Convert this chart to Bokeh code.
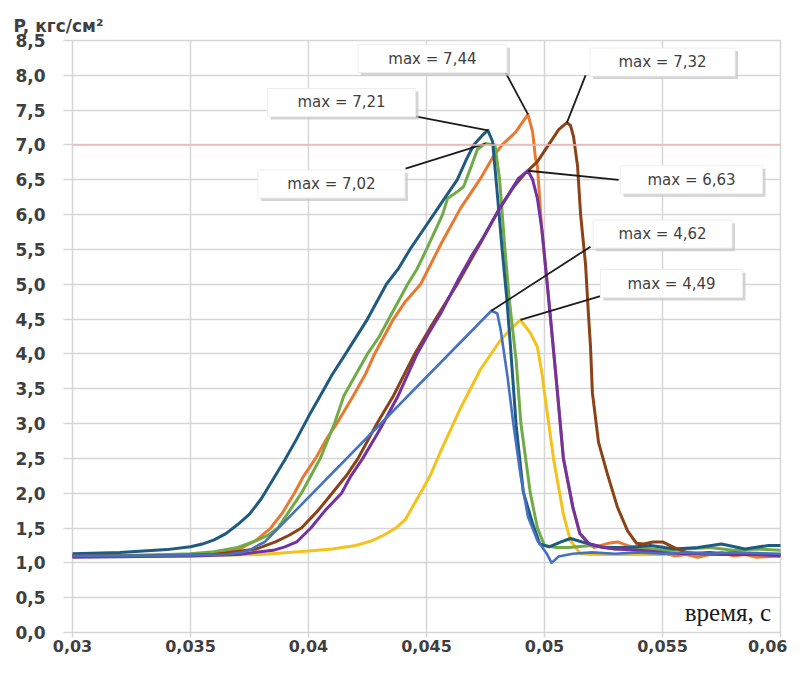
import numpy as np
from bokeh.plotting import figure
from bokeh.models import FixedTicker, Span, Label, Range1d
from bokeh.embed import file_html
from bokeh.resources import INLINE
from bokeh.core.properties import value

# ---------------- data ----------------
x_ticks = [0.03, 0.035, 0.04, 0.045, 0.05, 0.055, 0.06]
x_tick_labels = ["0,03", "0,035", "0,04", "0,045", "0,05", "0,055", "0,06"]
y_ticks = [0.0, 0.5, 1.0, 1.5, 2.0, 2.5, 3.0, 3.5, 4.0, 4.5, 5.0, 5.5, 6.0, 6.5, 7.0, 7.5, 8.0, 8.5]
y_tick_labels = ["0,0", "0,5", "1,0", "1,5", "2,0", "2,5", "3,0", "3,5", "4,0", "4,5",
                 "5,0", "5,5", "6,0", "6,5", "7,0", "7,5", "8,0", "8,5"]
y_title = "P, кгс/см²"
x_title = "время, с"

# dark teal-blue series (max 7,21)
t_teal = [0.030, 0.032, 0.034, 0.035, 0.0355, 0.036, 0.0365, 0.037, 0.0375, 0.038, 0.0385, 0.039,
          0.0395, 0.040, 0.0405, 0.041, 0.04157, 0.0425, 0.0433, 0.0438, 0.0443, 0.0448, 0.0453,
          0.0458, 0.0463, 0.0467, 0.0470, 0.0474, 0.0476, 0.0478, 0.0480, 0.0482, 0.0484, 0.04856,
          0.0488, 0.0491, 0.0495, 0.0498, 0.0502, 0.0507, 0.0511, 0.0516, 0.0525, 0.0535, 0.0545,
          0.0555, 0.0565, 0.0575, 0.0585, 0.0595, 0.0600]
p_teal = [1.13, 1.15, 1.19, 1.23, 1.27, 1.33, 1.42, 1.55, 1.70, 1.92, 2.20, 2.48,
          2.78, 3.10, 3.40, 3.70, 4.00, 4.50, 5.00, 5.22, 5.50, 5.75, 6.00,
          6.25, 6.50, 6.80, 7.00, 7.15, 7.21, 7.05, 6.30, 5.52, 4.80, 4.10,
          2.97, 2.02, 1.56, 1.27, 1.23, 1.30, 1.35, 1.30, 1.22, 1.22, 1.25,
          1.20, 1.22, 1.27, 1.20, 1.25, 1.25]

# green series (max 7,02)
t_green = [0.030, 0.033, 0.035, 0.036, 0.037, 0.0378, 0.0383, 0.0387, 0.0392, 0.0397, 0.0401, 0.0405,
           0.0411, 0.0415, 0.0420, 0.0425, 0.0430, 0.0434, 0.0438, 0.0442, 0.0446, 0.0450, 0.04568,
           0.04589, 0.04631, 0.04657, 0.04686, 0.04716, 0.0475, 0.0479, 0.0481, 0.0483, 0.0485,
           0.0488, 0.0490, 0.0494, 0.0497, 0.0500, 0.0505, 0.051, 0.052, 0.053, 0.054, 0.055,
           0.056, 0.057, 0.058, 0.059, 0.060]
p_green = [1.10, 1.11, 1.13, 1.16, 1.22, 1.32, 1.40, 1.50, 1.75, 2.00, 2.25, 2.50,
           3.00, 3.40, 3.70, 4.00, 4.25, 4.50, 4.75, 5.00, 5.22, 5.50, 6.00,
           6.23, 6.33, 6.40, 6.66, 6.94, 7.02, 7.00, 6.50, 5.60, 4.80,
           3.90, 3.00, 2.00, 1.50, 1.25, 1.22, 1.22, 1.25, 1.20, 1.22, 1.18,
           1.20, 1.22, 1.18, 1.20, 1.18]

# orange series (max 7,44)
t_orange = [0.030, 0.033, 0.035, 0.0365, 0.0372, 0.0378, 0.0384, 0.0389, 0.0394, 0.0398, 0.0403,
            0.0408, 0.0412, 0.0419, 0.0424, 0.0428, 0.0436, 0.0441, 0.04475, 0.0456, 0.04644,
            0.04729, 0.04784, 0.0482, 0.04877, 0.0493, 0.0495, 0.04962, 0.0497, 0.04988, 0.0501,
            0.0503, 0.05055, 0.0508, 0.0512, 0.0515, 0.0518, 0.0521, 0.0527, 0.0531, 0.0535,
            0.0540, 0.0545, 0.0550, 0.0555, 0.0560, 0.0565, 0.0570, 0.0575, 0.0580, 0.0585,
            0.0590, 0.0600]
p_orange = [1.10, 1.11, 1.12, 1.15, 1.22, 1.33, 1.50, 1.72, 2.00, 2.25, 2.50,
            2.80, 3.00, 3.40, 3.70, 4.00, 4.50, 4.75, 5.00, 5.57, 6.09,
            6.52, 6.84, 7.00, 7.18, 7.44, 7.18, 6.80, 6.70, 5.80, 5.06,
            4.35, 3.44, 2.50, 1.80, 1.42, 1.30, 1.22, 1.28, 1.30, 1.25,
            1.20, 1.18, 1.15, 1.10, 1.12, 1.08, 1.12, 1.15, 1.10, 1.12,
            1.08, 1.10]

# brown series (max 7,32)
t_brown = [0.030, 0.033, 0.036, 0.0378, 0.0386, 0.0392, 0.0397, 0.0404, 0.0410, 0.0416, 0.0421,
           0.0429, 0.0436, 0.0445, 0.0452, 0.0463, 0.0473, 0.0481, 0.0487, 0.0492, 0.0497,
           0.05025, 0.0506, 0.05095, 0.0511, 0.05123, 0.0514, 0.05153, 0.05174, 0.05186, 0.05195,
           0.05203, 0.05229, 0.05267, 0.05309, 0.05352, 0.0539, 0.0542, 0.0546, 0.0550, 0.0555,
           0.0560, 0.0565, 0.0575, 0.0585, 0.0600]
p_brown = [1.10, 1.10, 1.12, 1.20, 1.30, 1.40, 1.50, 1.75, 2.00, 2.25, 2.50,
           3.00, 3.40, 4.00, 4.40, 5.00, 5.60, 6.09, 6.40, 6.60, 6.76,
           7.04, 7.22, 7.32, 7.28, 7.12, 6.70, 6.00, 5.28, 4.58, 4.10,
           3.44, 2.73, 2.27, 1.80, 1.46, 1.28, 1.27, 1.30, 1.30, 1.22,
           1.15, 1.13, 1.12, 1.12, 1.12]

# purple series (max 6,63)
t_purple = [0.030, 0.033, 0.035, 0.037, 0.0385, 0.0390, 0.0395, 0.0401, 0.0407, 0.0414, 0.0418,
            0.0423, 0.0430, 0.0438, 0.0446, 0.0451, 0.0456, 0.0464, 0.0469, 0.0474, 0.0481,
            0.0489, 0.0493, 0.0495, 0.0497, 0.0499, 0.0501, 0.0503, 0.05055, 0.0508, 0.0512,
            0.0515, 0.0519, 0.0525, 0.053, 0.054, 0.055, 0.056, 0.057, 0.058, 0.059, 0.060]
p_purple = [1.08, 1.09, 1.10, 1.12, 1.18, 1.23, 1.30, 1.50, 1.75, 2.00, 2.25,
            2.50, 2.90, 3.40, 4.00, 4.30, 4.58, 5.10, 5.40, 5.67, 6.09,
            6.52, 6.63, 6.50, 6.23, 5.76, 5.06, 4.35, 3.44, 2.50, 1.80,
            1.42, 1.27, 1.22, 1.20, 1.18, 1.15, 1.13, 1.15, 1.12, 1.12, 1.10]

# medium blue series (max 4,62)
t_blue = [0.030, 0.033, 0.035, 0.0365, 0.0372, 0.0376, 0.0379, 0.03815, 0.04775, 0.0480, 0.04814,
          0.04843, 0.04869, 0.04898, 0.0493, 0.0497, 0.0501, 0.0503, 0.0506, 0.0512, 0.052,
          0.053, 0.054, 0.055, 0.056, 0.057, 0.058, 0.059, 0.060]
p_blue = [1.10, 1.10, 1.11, 1.12, 1.15, 1.20, 1.26, 1.30, 4.62, 4.58, 4.35,
          3.68, 2.97, 2.27, 1.66, 1.32, 1.13, 1.00, 1.09, 1.13, 1.15,
          1.13, 1.15, 1.13, 1.15, 1.13, 1.15, 1.14, 1.13]

# yellow series (max 4,49)
t_yellow = [0.030, 0.035, 0.038, 0.040, 0.041, 0.042, 0.0427, 0.0432, 0.0437, 0.0441, 0.04474,
            0.04515, 0.0456, 0.04644, 0.04729, 0.04814, 0.04856, 0.04898, 0.0494, 0.0497, 0.0499,
            0.0500, 0.05038, 0.0508, 0.0511, 0.05153, 0.0520, 0.053, 0.055, 0.057, 0.060]
p_yellow = [1.10, 1.10, 1.12, 1.17, 1.20, 1.25, 1.32, 1.40, 1.50, 1.62, 2.00,
            2.25, 2.60, 3.22, 3.78, 4.20, 4.35, 4.49, 4.30, 4.10, 3.70,
            3.44, 2.50, 1.70, 1.32, 1.13, 1.12, 1.12, 1.12, 1.12, 1.12]

# callouts
callout_texts = ["max = 7,44", "max = 7,32", "max = 7,21", "max = 7,02",
                 "max = 6,63", "max = 4,62", "max = 4,49"]
callout_series = ["orange", "brown", "teal", "green", "purple", "blue", "yellow"]
callout_t = [0.04525, 0.0550, 0.0414, 0.04097, 0.05623, 0.0550, 0.05538]
callout_p = [8.24, 8.19, 7.61, 6.44, 6.50, 5.72, 5.01]
callout_w = [149, 145, 148, 147, 142, 139, 142]
leader_t = [0.04835, 0.05174, 0.04453, 0.04411, 0.05314, 0.05195, 0.05237]
leader_p = [8.04, 8.00, 7.41, 6.66, 6.50, 5.54, 4.83]

# ---------------- styling ----------------
colors = {
    "yellow": "#f5c21b",
    "orange": "#e8792f",
    "green": "#6fab46",
    "teal": "#1f5a80",
    "brown": "#8a4216",
    "purple": "#7232a2",
    "blue": "#4471c2",
}
series = {
    "yellow": (t_yellow, p_yellow),
    "orange": (t_orange, p_orange),
    "green": (t_green, p_green),
    "teal": (t_teal, p_teal),
    "brown": (t_brown, p_brown),
    "purple": (t_purple, p_purple),
    "blue": (t_blue, p_blue),
}
draw_order = ["yellow", "orange", "green", "teal", "brown", "purple", "blue"]

grid_color = "#d6d6d6"
label_color = "#3f3f3f"

W, H = 787, 657
BL, BR, BT, BB = 72, 7, 40, 25

p = figure(width=W, height=H,
           x_range=Range1d(0.03, 0.06), y_range=Range1d(0.0, 8.5),
           output_backend="svg", toolbar_location=None,
           min_border_left=BL, min_border_right=BR,
           min_border_top=BT, min_border_bottom=BB)

p.background_fill_color = "white"
p.border_fill_color = "white"
p.outline_line_color = grid_color
p.outline_line_width = 1.5

# y-axis caption as a left-aligned title above the tick labels
p.title.text = y_title
p.title.align = "left"
p.title.offset = -59
p.title.standoff = 9
p.title.text_font = "DejaVu Sans"
p.title.text_font_size = "17px"
p.title.text_font_style = "bold"
p.title.text_color = label_color

xt = FixedTicker(ticks=x_ticks)
yt = FixedTicker(ticks=y_ticks)
p.xaxis.ticker = xt
p.yaxis.ticker = yt
p.xgrid.ticker = xt
p.ygrid.ticker = yt
p.xaxis.major_label_overrides = {k: v for k, v in zip(x_ticks, x_tick_labels)}
p.yaxis.major_label_overrides = {k: v for k, v in zip(y_ticks, y_tick_labels)}

for g in (p.xgrid, p.ygrid):
    g.grid_line_color = grid_color
    g.grid_line_width = 1.5

for ax in (p.xaxis, p.yaxis):
    ax.axis_line_color = None
    ax.major_tick_line_color = grid_color
    ax.major_tick_line_width = 1.5
    ax.major_tick_in = 0
    ax.minor_tick_line_color = None
    ax.major_label_text_font = "DejaVu Sans"
    ax.major_label_text_font_style = "bold"
    ax.major_label_text_color = label_color

p.yaxis.major_tick_out = 9
p.yaxis.major_label_standoff = 18
p.yaxis.major_label_text_font_size = "17px"
p.xaxis.major_tick_out = 5
p.xaxis.major_label_standoff = 2
p.xaxis.major_label_text_font_size = "16px"

# curves
for name in draw_order:
    t, pr = series[name]
    p.line(t, pr, line_color=colors[name], line_width=3.0 if name != "blue" else 2.6,
           line_join="round", line_cap="round")

# reddish line at 7,0 (drawn over the curves)
p.add_layout(Span(location=7.0, dimension="width", line_color="#f0b4b4", line_width=1.4))

# callout leaders
peak_t, peak_p = [], []
for name in callout_series:
    t, pr = series[name]
    i = int(np.argmax(pr))
    peak_t.append(t[i])
    peak_p.append(pr[i])
p.segment(x0=leader_t, y0=leader_p, x1=peak_t, y1=peak_p,
          line_color="#1c1c1c", line_width=1.8)

# callout boxes with soft shadow
frame_w = W - BL - BR
frame_h = H - BT - BB - 4
px_t = 0.03 / frame_w
px_p = 8.5 / frame_h
shadow_t = [v + 3 * px_t for v in callout_t]
shadow_p = [v - 3 * px_p for v in callout_p]
p.rect(x=shadow_t, y=shadow_p, width=callout_w, height=28,
       width_units="screen", height_units="screen",
       fill_color="#c9c9c9", fill_alpha=0.8, line_color=None)
p.rect(x=callout_t, y=callout_p, width=callout_w, height=28,
       width_units="screen", height_units="screen",
       fill_color="white", line_color="#eeeeee", line_width=1)
p.text(x=callout_t, y=callout_p, text=callout_texts,
       text_align="center", text_baseline="middle",
       text_font=value("DejaVu Sans"), text_font_size="15px", text_color=label_color)

# x-axis caption inside the plot
p.add_layout(Label(x=0.0596, y=0.1, text=x_title, text_align="right",
                   text_baseline="bottom", text_font="Liberation Serif",
                   text_font_size="25px", text_color="#1a1a1a"))

open("out.html", "w").write(file_html(p, INLINE))
